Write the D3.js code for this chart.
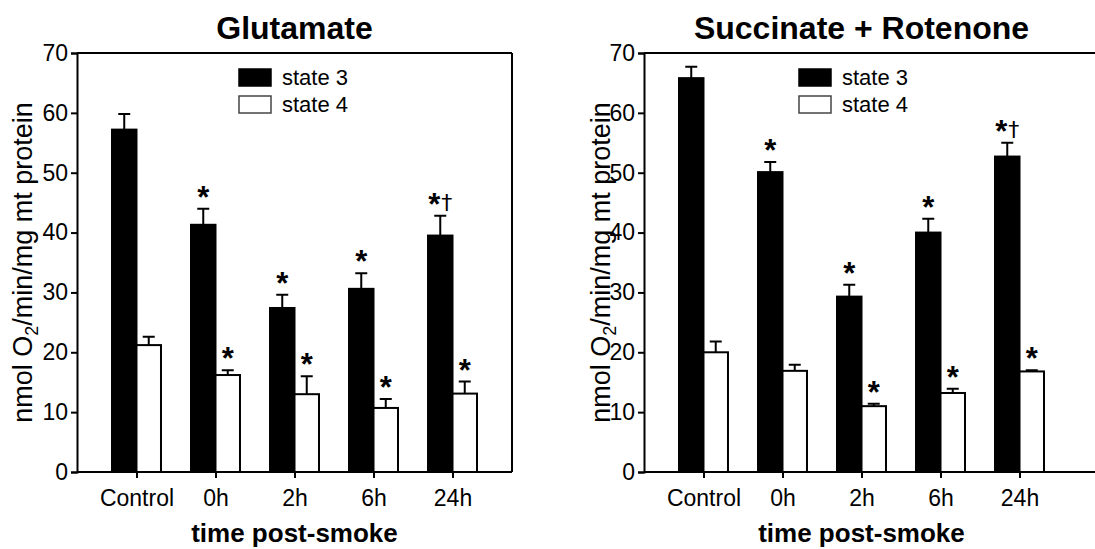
<!DOCTYPE html>
<html>
<head>
<meta charset="utf-8" />
<title>Mitochondrial respiration post-smoke</title>
<style>
body { margin: 0; background: #fff; }
#graph { width: 1095px; height: 549px; overflow: hidden; }
svg { font-family: "Liberation Sans", Arial, Helvetica, sans-serif; }
</style>
</head>
<body>
<div id="graph"></div>
<script src="https://cdnjs.cloudflare.com/ajax/libs/d3/7.8.5/d3.min.js"></script>
<script>
// values (mean, SEM)
var categories = ["Control", "0h", "2h", "6h", "24h"]
var yTicks = [0, 10, 20, 30, 40, 50, 60, 70]
var seriesNames = ["state 3", "state 4"]

var gluState3 = [57.2, 41.3, 27.4, 30.6, 39.5]
var gluState3Err = [2.6, 2.7, 2.2, 2.6, 3.3]
var gluState4 = [21.2, 16.2, 13.0, 10.7, 13.1]
var gluState4Err = [1.4, 0.8, 3.0, 1.5, 2.0]
var gluState3Sig = ["", "*", "*", "*", "*†"]
var gluState4Sig = ["", "*", "*", "*", "*"]

var sucState3 = [65.8, 50.1, 29.3, 40.0, 52.7]
var sucState3Err = [1.9, 1.7, 2.0, 2.3, 2.3]
var sucState4 = [20.0, 16.9, 11.0, 13.2, 16.8]
var sucState4Err = [1.8, 1.0, 0.4, 0.7, 0.2]
var sucState3Sig = ["", "*", "*", "*", "*†"]
var sucState4Sig = ["", "", "*", "*", "*"]

!(function(){
    "use strict"

    var svg = d3.select("#graph").append("svg")
        .attr("width", 1095).attr("height", 549)

    var top = 53, bottom = 472

    drawPanel({
        title: "Glutamate", left: 77, width: 435, frameWidth: 435, ylabOffset: 45, legendX: 162,
        s3: gluState3, e3: gluState3Err, s4: gluState4, e4: gluState4Err,
        sig3: gluState3Sig, sig4: gluState4Sig
    })
    drawPanel({
        title: "Succinate + Rotenone", left: 644, width: 435, frameWidth: 470, ylabOffset: 34, legendX: 155,
        s3: sucState3, e3: sucState3Err, s4: sucState4, e4: sucState4Err,
        sig3: sucState3Sig, sig4: sucState4Sig
    })

    function drawPanel(p) {
        var g = svg.append("g").attr("transform", "translate(" + [p.left, 0] + ")")

        var x = d3.scalePoint().domain(categories).range([0, p.width]).padding(0.753)
        var y = d3.scaleLinear().domain([0, 70]).range([bottom, top])
        var barW = x.step() * 0.31

        // frame (top + right)
        g.append("line").attr("x1", 0).attr("x2", p.frameWidth).attr("y1", top).attr("y2", top)
            .attr("stroke", "#000").attr("stroke-width", 2)
        g.append("line").attr("x1", p.frameWidth).attr("x2", p.frameWidth).attr("y1", top).attr("y2", bottom)
            .attr("stroke", "#000").attr("stroke-width", 2)

        var groups = categories.map(function(c, i){
            return [
                {cat: c, v: p.s3[i], e: p.e3[i], sig: p.sig3[i], fill: "#000", dx: -barW},
                {cat: c, v: p.s4[i], e: p.e4[i], sig: p.sig4[i], fill: "#fff", dx: 0}
            ]
        })
        var bars = [].concat.apply([], groups)

        // error bars (upper only)
        g.selectAll(".err").data(bars).enter().append("path").attr("class", "err")
            .attr("d", function(d){
                var cx = x(d.cat) + d.dx + barW / 2
                return "M" + cx + "," + y(d.v) + "V" + y(d.v + d.e) + "M" + (cx - 6) + "," + y(d.v + d.e) + "H" + (cx + 6)
            })
            .attr("stroke", "#000").attr("stroke-width", 2).attr("fill", "none")

        g.selectAll(".bar").data(bars).enter().append("rect").attr("class", "bar")
            .attr("x", function(d){ return x(d.cat) + d.dx })
            .attr("y", function(d){ return y(d.v) })
            .attr("width", barW)
            .attr("height", function(d){ return y(0) - y(d.v) })
            .attr("fill", function(d){ return d.fill })
            .attr("stroke", "#000").attr("stroke-width", 2)

        // significance marks
        var sig = g.selectAll(".sig").data(bars.filter(function(d){ return d.sig })).enter()
            .append("text").attr("class", "sig")
            .attr("x", function(d){ return x(d.cat) + d.dx + barW / 2 })
            .attr("y", function(d){ return y(d.v + d.e) - 1 })
            .attr("text-anchor", "middle")
        sig.append("tspan").attr("font-size", 31).attr("font-weight", "bold")
            .text(function(d){ return d.sig.charAt(0) })
        sig.append("tspan").attr("font-family", "DejaVu Sans").attr("font-size", 22)
            .attr("dx", 1).attr("dy", -5)
            .text(function(d){ return d.sig.slice(1) })

        // axes
        var yAxis = d3.axisLeft(y).tickValues(yTicks).tickSize(6).tickPadding(3)
        var ya = g.append("g").call(yAxis)
        var xAxis = d3.axisBottom(x).tickSize(6).tickPadding(11)
        var xa = g.append("g").attr("transform", "translate(0," + bottom + ")").call(xAxis)
        xa.select(".domain").attr("d", "M0,0H" + p.frameWidth)
        ;[ya, xa].forEach(function(a){
            a.select(".domain").attr("stroke-width", 2)
            a.selectAll(".tick line").attr("stroke-width", 2)
            a.selectAll("text").attr("font-size", 23).attr("fill", "#000")
                .attr("font-family", "Liberation Sans, Arial, sans-serif")
        })
        xa.selectAll("text").attr("dy", "0.75em")

        // titles
        var mid = (x(categories[0]) + x(categories[categories.length - 1])) / 2
        g.append("text").attr("x", mid).attr("y", 39).attr("text-anchor", "middle")
            .attr("font-size", 32).attr("font-weight", "bold").text(p.title)
        g.append("text").attr("x", mid).attr("y", 542).attr("text-anchor", "middle")
            .attr("font-size", 26).attr("font-weight", "bold").text("time post-smoke")

        var yl = g.append("text").attr("transform", "translate(" + [-p.ylabOffset, (top + bottom) / 2] + ") rotate(-90)")
            .attr("text-anchor", "middle").attr("font-size", 27)
        yl.append("tspan").text("nmol O")
        yl.append("tspan").attr("font-size", 18).attr("dy", 6).text("2")
        yl.append("tspan").attr("dy", -6).text("/min/mg mt protein")

        // legend
        var lg = g.selectAll(".legend").data(seriesNames).enter().append("g").attr("class", "legend")
            .attr("transform", function(d, i){ return "translate(" + [p.legendX, 69 + i * 27] + ")" })
        lg.append("rect").attr("width", 32).attr("height", 17)
            .attr("fill", function(d, i){ return i ? "#fff" : "#000" })
            .attr("stroke", function(d, i){ return i ? "#444" : "#000" }).attr("stroke-width", 1.5)
        lg.append("text").attr("x", 43).attr("y", 16).attr("font-size", 22).text(function(d){ return d })
    }
}());
</script>
</body>
</html>
